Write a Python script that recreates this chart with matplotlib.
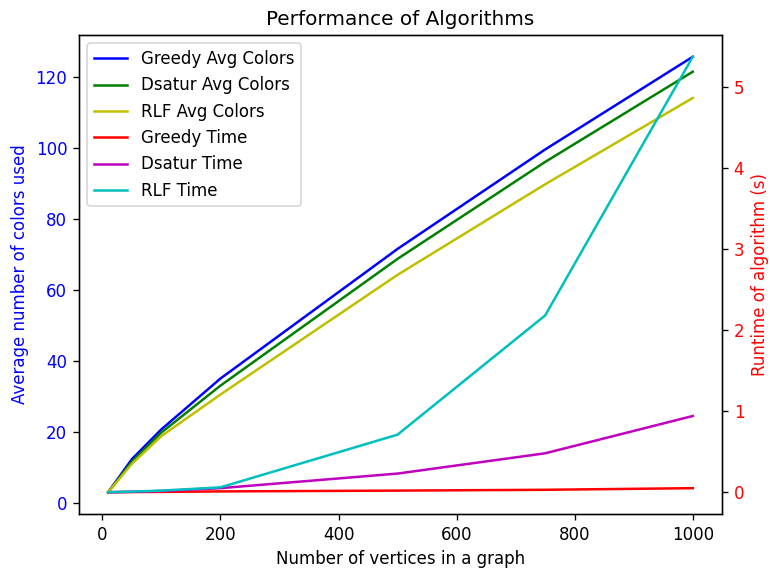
import matplotlib
matplotlib.use('Agg')
import matplotlib.pyplot as plt

vertices = [10, 50, 100, 200, 500, 750, 1000]

greedy_colors = [3, 12.3, 20.7, 35, 71.5, 99.5, 125.6]
dsatur_colors = [3, 11.6, 19.8, 33, 68.7, 96, 121.4]
rlf_colors = [3, 11, 18.8, 30.5, 64.2, 89.7, 114]

greedy_time = [0.0, 0.002, 0.004, 0.01, 0.02, 0.03, 0.05]
dsatur_time = [0.0, 0.005, 0.015, 0.05, 0.23, 0.48, 0.94]
rlf_time = [0.0, 0.008, 0.02, 0.06, 0.71, 2.18, 5.37]

fig, ax1 = plt.subplots(figsize=(770/120, 570/120), dpi=120)
ax2 = ax1.twinx()

l1, = ax1.plot(vertices, greedy_colors, 'b-', label='Greedy Avg Colors')
l2, = ax1.plot(vertices, dsatur_colors, 'g-', label='Dsatur Avg Colors')
l3, = ax1.plot(vertices, rlf_colors, 'y-', label='RLF Avg Colors')
l4, = ax2.plot(vertices, greedy_time, 'r-', label='Greedy Time')
l5, = ax2.plot(vertices, dsatur_time, 'm-', label='Dsatur Time')
l6, = ax2.plot(vertices, rlf_time, 'c-', label='RLF Time')

ax1.set_xlabel('Number of vertices in a graph')
ax1.set_ylabel('Average number of colors used', color='b')
ax1.tick_params(axis='y', labelcolor='b')
ax2.set_ylabel('Runtime of algorithm (s)', color='r')
ax2.tick_params(axis='y', labelcolor='r')

lines = [l1, l2, l3, l4, l5, l6]
ax1.legend(lines, [l.get_label() for l in lines], loc='upper left')
plt.title('Performance of Algorithms')
fig.subplots_adjust(left=79/770, right=722/770, bottom=1-514/570, top=1-35/570)
plt.savefig('out.png')
